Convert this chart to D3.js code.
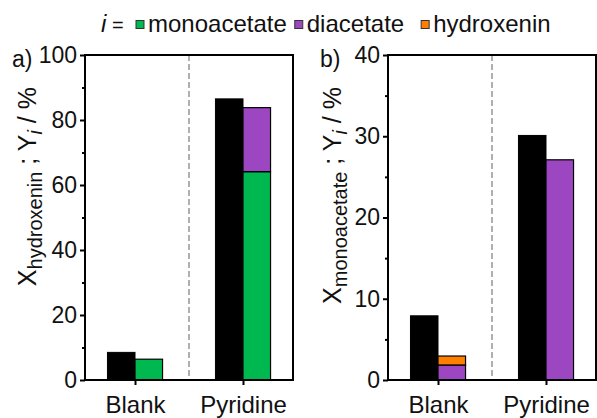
<!DOCTYPE html>
<html><head><meta charset="utf-8">
<script src="https://cdn.jsdelivr.net/npm/d3@7"></script>
<style>body{margin:0;background:#fff}svg{display:block;font-family:"Liberation Sans",Arial,sans-serif}</style>
</head><body><svg id="c" width="597" height="418"></svg>
<script>
const categories = ["Blank", "Pyridine"];
// panel a
const convA = [8.5, 86.5];
const monoA = [6.4, 64.1];
const diA = [0, 19.7];
const hydroA = [0, 0];
const ticksA = [0, 20, 40, 60, 80, 100];
const minorA = [10, 30, 50, 70, 90];
// panel b
const convB = [7.9, 30.1];
const monoB = [0, 0];
const diB = [1.85, 27.1];
const hydroB = [1.1, 0];
const ticksB = [0, 10, 20, 30, 40];
const minorB = [5, 15, 25, 35];

const legendNames = ["monoacetate", "diacetate", "hydroxenin"];
const colors = {monoacetate: "#00B850", diacetate: "#9C46C1", hydroxenin: "#FF8000"};

const svg = d3.select("#c");

function panel(opts) {
  const {left, right, top, bottom, ymax, ticks, minor, conv, stacks, sub, tag, tagX} = opts;
  const g = svg.append("g");
  const y = d3.scaleLinear().domain([0, ymax]).range([bottom, top]);
  const x = d3.scalePoint().domain(categories).range([left, right]).padding(0.463);
  const bw = x.step() * 0.255;

  const mid = (x(categories[0]) + x(categories[1])) / 2;
  g.append("line").attr("x1", mid).attr("x2", mid).attr("y1", top).attr("y2", bottom)
    .attr("stroke", "#a8a8a8").attr("stroke-width", 1.8).attr("stroke-dasharray", "6,3");

  g.selectAll(".cb").data(categories).join("rect")
    .attr("x", d => x(d) - bw).attr("width", bw)
    .attr("y", (d, i) => y(conv[i])).attr("height", (d, i) => y(0) - y(conv[i]))
    .attr("fill", "#000").attr("stroke", "#000").attr("stroke-width", 1);

  categories.forEach((c, i) => {
    let base = 0;
    stacks.forEach(s => {
      const v = s.values[i];
      if (v > 0) {
        g.append("rect").attr("x", x(c)).attr("width", bw)
          .attr("y", y(base + v)).attr("height", y(base) - y(base + v))
          .attr("fill", colors[s.name]).attr("stroke", "#000").attr("stroke-width", 1.2);
      }
      base += v;
    });
  });

  g.append("rect").attr("x", left).attr("y", top).attr("width", right - left).attr("height", bottom - top)
    .attr("fill", "none").attr("stroke", "#000").attr("stroke-width", 2);

  const ya = d3.axisLeft(y).tickValues(ticks).tickSize(5).tickPadding(3).tickFormat(d3.format("d"));
  const yg = g.append("g").attr("transform", `translate(${left},0)`).call(ya);
  yg.select(".domain").remove();
  yg.selectAll(".tick line").attr("stroke-width", 2);
  yg.selectAll("text").attr("font-size", 23).attr("fill", "#111").attr("font-family", "Liberation Sans, Arial, sans-serif");
  const ym = d3.axisLeft(y).tickValues(minor).tickSize(3).tickFormat("");
  const ymg = g.append("g").attr("transform", `translate(${left},0)`).call(ym);
  ymg.select(".domain").remove();
  ymg.selectAll(".tick line").attr("stroke-width", 2);

  const xa = d3.axisBottom(x).tickSize(5).tickPadding(11);
  const xg = g.append("g").attr("transform", `translate(0,${bottom})`).call(xa);
  xg.select(".domain").remove();
  xg.selectAll(".tick line").attr("stroke-width", 2);
  xg.selectAll("text").attr("font-size", 24).attr("fill", "#111").attr("font-family", "Liberation Sans, Arial, sans-serif");

  g.append("text").attr("x", tagX).attr("y", top + 12).attr("font-size", 23).attr("fill", "#111").text(tag);

  const lab = g.append("text").attr("transform", `translate(${opts.labX},${top + 32}) rotate(-90)`)
    .attr("text-anchor", "end").attr("font-size", 25).attr("fill", "#111");
  lab.append("tspan").text("X");
  lab.append("tspan").attr("font-size", 20).attr("dy", 6).text(sub);
  lab.append("tspan").attr("dy", -6).text(" ; Y");
  lab.append("tspan").attr("font-size", 20).attr("dy", 6).attr("font-style", "italic").text("i");
  lab.append("tspan").attr("dy", -6).text(" / %");
}

panel({left: 85, right: 293, top: 55, bottom: 380, ymax: 100, ticks: ticksA, minor: minorA,
  conv: convA, stacks: [{name: "monoacetate", values: monoA}, {name: "diacetate", values: diA}, {name: "hydroxenin", values: hydroA}],
  sub: "hydroxenin", tag: "a)", tagX: 12, labX: 36});
panel({left: 388, right: 596, top: 55, bottom: 380, ymax: 40, ticks: ticksB, minor: minorB,
  conv: convB, stacks: [{name: "monoacetate", values: monoB}, {name: "diacetate", values: diB}, {name: "hydroxenin", values: hydroB}],
  sub: "monoacetate", tag: "b)", tagX: 320, labX: 341});

// legend
const lg = svg.append("g");
const lt = lg.append("text").attr("x", 101).attr("y", 32).attr("font-size", 24).attr("fill", "#111");
lt.append("tspan").attr("font-style", "italic").text("i");
lt.append("tspan").attr("font-size", 20).text(" =");
let lx = 136;
const gaps = [8, 17, 0];
legendNames.forEach((n, i) => {
  lg.append("rect").attr("x", lx).attr("y", 20.5).attr("width", 8).attr("height", 8)
    .attr("fill", colors[n]).attr("stroke", "#333").attr("stroke-width", 1);
  const t = lg.append("text").attr("x", lx + 12).attr("y", 32).attr("font-size", 24).attr("fill", "#111").text(n);
  lx += 12 + t.node().getComputedTextLength() + gaps[i];
});
</script></body></html>
